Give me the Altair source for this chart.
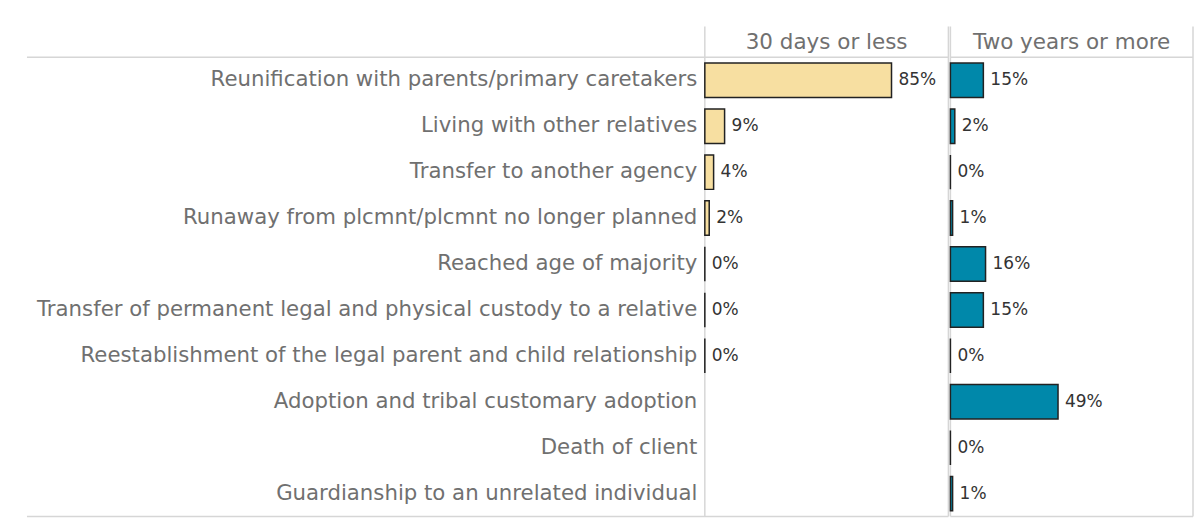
import altair as alt
import pandas as pd

categories = [
    "Reunification with parents/primary caretakers",
    "Living with other relatives",
    "Transfer to another agency",
    "Runaway from plcmnt/plcmnt no longer planned",
    "Reached age of majority",
    "Transfer of permanent legal and physical custody to a relative",
    "Reestablishment of the legal parent and child relationship",
    "Adoption and tribal customary adoption",
    "Death of client",
    "Guardianship to an unrelated individual",
]
short_stay = [0.85, 0.09, 0.04, 0.02, 0.0, 0.0, 0.0, None, None, None]
long_stay = [0.15, 0.02, 0.0, 0.01, 0.16, 0.15, 0.0, 0.49, 0.0, 0.01]
periods = ["30 days or less", "Two years or more"]
colors = ["#F7DFA1", "#0088AA"]

FONT = "DejaVu Sans"
H = 460
LEFT = 679
LINE = "#d6d6d6"
PX_PER_UNIT = 220.0  # pixels for 100 %

one = pd.DataFrame({"a": [0]})


def rule(x, x2, y, y2):
    enc = dict(x=alt.value(x), y=alt.value(y))
    if x2 is not None:
        enc["x2"] = alt.value(x2)
    if y2 is not None:
        enc["y2"] = alt.value(y2)
    return alt.Chart(one).mark_rule(color=LINE, strokeWidth=1.5).encode(**enc)


def panel(vals, color, title, show_axis, width):
    df = pd.DataFrame({"category": categories, "value": vals}).dropna()
    y = alt.Y(
        "category:N",
        sort=categories,
        scale=alt.Scale(domain=categories, paddingInner=0.25, paddingOuter=0.125),
        axis=alt.Axis(
            title=None, ticks=False, domain=False, grid=False,
            labelFont=FONT, labelFontSize=21.3, labelColor="#707070",
            labelPadding=8, labelLimit=700,
        ) if show_axis else None,
    )
    x = alt.X("value:Q", scale=alt.Scale(domain=[0, width / PX_PER_UNIT]), axis=None)
    bars = alt.Chart(df).mark_bar(
        color=color, stroke="#222222", strokeWidth=1.5
    ).encode(x=x, y=y)
    text = alt.Chart(df).mark_text(
        align="left", baseline="middle", dx=7, font=FONT, fontSize=17, color="#333333"
    ).encode(x=x, y=y, text=alt.Text("value:Q", format=".0%"))
    head = alt.Chart(pd.DataFrame({"t": [title]})).mark_text(
        align="center", baseline="middle", font=FONT, fontSize=21.5, color="#707070"
    ).encode(x=alt.value(width / 2), y=alt.value(-14), text="t:N")
    layers = [
        rule(-LEFT if show_axis else 0, width, 0, None),
        rule(-LEFT if show_axis else 0, width, H, None),
        rule(0, None, -31, H),
        rule(width, None, -31, H),
        bars, text, head,
    ]
    return alt.layer(*layers).properties(width=width, height=H)


chart = alt.hconcat(
    panel(short_stay, colors[0], periods[0], True, 244),
    panel(long_stay, colors[1], periods[1], False, 243),
    spacing=0,
).properties(
    padding={"left": 18, "top": 17, "right": 0, "bottom": 0},
    background="white",
).configure_view(stroke=None).configure_concat(spacing=0)

chart.save("out.html", embed_options={"renderer": "svg", "actions": False})
